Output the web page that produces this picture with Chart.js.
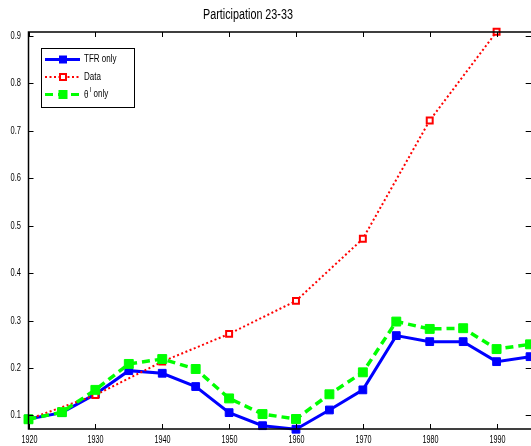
<!DOCTYPE html>
<html>
<head>
<meta charset="utf-8">
<style>
  html, body { margin: 0; padding: 0; background: #fff; overflow: hidden; }
  #wrap { width: 540px; height: 446px; }
</style>
<script src="https://cdn.jsdelivr.net/npm/chart.js@4/dist/chart.umd.min.js"></script>
</head>
<body>
<div id="wrap"><canvas id="c" width="540" height="446"></canvas></div>
<script>
// ---- data ----
const title = "Participation 23-33";
const years5 = [1920,1925,1930,1935,1940,1945,1950,1955,1960,1965,1970,1975,1980,1985,1990,1995];
const tfrOnly = [0.0926,0.106,0.145,0.1945,0.189,0.161,0.106,0.0785,0.071,0.1116,0.154,0.2684,0.2557,0.2557,0.2135,0.224];
const thetaOnly = [0.092,0.107,0.154,0.2087,0.219,0.198,0.136,0.103,0.0926,0.1447,0.191,0.298,0.2825,0.284,0.240,0.250];
const years10 = [1920,1930,1940,1950,1960,1970,1980,1990];
const dataVals = [0.092,0.143,0.2135,0.272,0.3416,0.4725,0.722,0.909];
const xTicks = [1920,1930,1940,1950,1960,1970,1980,1990];
const yTicks = [0.1,0.2,0.3,0.4,0.5,0.6,0.7,0.8,0.9];
const yTickLabels = ["0.1","0.2","0.3","0.4","0.5","0.6","0.7","0.8","0.9"];
const legendLabels = ["TFR only","Data","only"];

const BLUE = '#0000ff', RED = '#ff0000', GREEN = '#00ff00';
const FONT = 'Liberation Sans, Arial, sans-serif';

function txt(ctx, s, x, y, align, sx, size) {
  ctx.save();
  ctx.font = size + 'px ' + FONT;
  ctx.fillStyle = '#000';
  ctx.textBaseline = 'middle';
  ctx.translate(x, y);
  ctx.scale(sx, 1);
  ctx.textAlign = align;
  ctx.fillText(s, 0, 0);
  ctx.restore();
}

const decor = {
  id: 'decor',
  afterDraw(chart) {
    const ctx = chart.ctx;
    const a = chart.chartArea;
    const xs = chart.scales.x, ys = chart.scales.y;
    ctx.save();
    // axes box
    ctx.strokeStyle = '#000';
    ctx.lineWidth = 1.5;
    ctx.setLineDash([]);
    ctx.strokeRect(a.left, a.top, a.right - a.left, a.bottom - a.top);
    // ticks
    ctx.lineWidth = 1;
    const tl = 5;
    xTicks.forEach(v => {
      const px = Math.round(xs.getPixelForValue(v)) + 0.5;
      ctx.beginPath();
      ctx.moveTo(px, a.bottom); ctx.lineTo(px, a.bottom - tl);
      ctx.moveTo(px, a.top); ctx.lineTo(px, a.top + tl);
      ctx.stroke();
      txt(ctx, String(v), px, 440, 'center', 0.72, 10);
    });
    yTicks.forEach((v, i) => {
      const py = Math.round(ys.getPixelForValue(v)) + 0.5;
      ctx.beginPath();
      ctx.moveTo(a.left, py); ctx.lineTo(a.left + tl, py);
      ctx.moveTo(a.right, py); ctx.lineTo(a.right - tl - 2, py);
      ctx.stroke();
      txt(ctx, yTickLabels[i], 21, py, 'right', 0.75, 10);
    });
    // title
    txt(ctx, title, 248, 15.5, 'center', 0.77, 14);

    // legend
    ctx.fillStyle = '#fff';
    ctx.fillRect(41, 48, 94, 60);
    ctx.strokeStyle = '#000';
    ctx.lineWidth = 1;
    ctx.strokeRect(41.5, 48.5, 93, 59);
    const rows = [59.5, 77, 94.5];
    // blue
    ctx.strokeStyle = BLUE; ctx.lineWidth = 3; ctx.setLineDash([]);
    ctx.beginPath(); ctx.moveTo(45, rows[0]); ctx.lineTo(80, rows[0]); ctx.stroke();
    ctx.fillStyle = BLUE; ctx.fillRect(59, rows[0] - 4, 8, 8);
    // red
    ctx.strokeStyle = RED; ctx.lineWidth = 2; ctx.setLineDash([2, 2.5]);
    ctx.beginPath(); ctx.moveTo(45, rows[1]); ctx.lineTo(80, rows[1]); ctx.stroke();
    ctx.setLineDash([]);
    ctx.fillStyle = '#fff'; ctx.fillRect(59.5, rows[1] - 3.5, 7, 7);
    ctx.strokeStyle = RED; ctx.lineWidth = 2; ctx.strokeRect(60, rows[1] - 3, 6, 6);
    // green
    ctx.strokeStyle = GREEN; ctx.lineWidth = 3; ctx.setLineDash([8, 5]);
    ctx.beginPath(); ctx.moveTo(45, rows[2]); ctx.lineTo(80, rows[2]); ctx.stroke();
    ctx.setLineDash([]);
    ctx.fillStyle = GREEN; ctx.fillRect(58.5, rows[2] - 4.5, 9, 9);
    // texts
    txt(ctx, legendLabels[0], 84, rows[0], 'left', 0.8, 10);
    txt(ctx, legendLabels[1], 84, rows[1], 'left', 0.8, 10);
    txt(ctx, '\u03B8', 84, rows[2] + 0.5, 'left', 0.8, 10);
    txt(ctx, 'I', 89.5, rows[2] - 4, 'left', 0.8, 7);
    txt(ctx, legendLabels[2], 93.5, rows[2], 'left', 0.8, 10);
    ctx.restore();
  }
};

new Chart(document.getElementById('c'), {
  type: 'line',
  data: {
    datasets: [
      {
        label: 'TFR only',
        data: years5.map((x, i) => ({x, y: tfrOnly[i]})),
        borderColor: BLUE, backgroundColor: BLUE,
        borderWidth: 3, pointStyle: 'rect', pointRadius: 5.5,
        pointBorderWidth: 1, pointBorderColor: BLUE, pointBackgroundColor: BLUE,
        tension: 0, clip: false, order: 2
      },
      {
        label: 'Data',
        data: years10.map((x, i) => ({x, y: dataVals[i]})),
        borderColor: RED, backgroundColor: '#fff',
        borderWidth: 2, borderDash: [2, 2.5], pointStyle: 'rect', pointRadius: 4.2,
        pointBorderWidth: 2, pointBorderColor: RED, pointBackgroundColor: '#fff',
        tension: 0, clip: false, order: 1
      },
      {
        label: 'theta only',
        data: years5.map((x, i) => ({x, y: thetaOnly[i]})),
        borderColor: GREEN, backgroundColor: GREEN,
        borderWidth: 3.5, borderDash: [8, 5], pointStyle: 'rect', pointRadius: 6.3,
        pointBorderWidth: 1, pointBorderColor: GREEN, pointBackgroundColor: GREEN,
        tension: 0, clip: false, order: 0
      }
    ]
  },
  options: {
    responsive: false,
    animation: false,
    devicePixelRatio: 1,
    layout: { padding: { top: 32, right: 1.5, left: 0, bottom: 0 } },
    plugins: { legend: { display: false }, title: { display: false }, tooltip: { enabled: false } },
    scales: {
      x: {
        type: 'linear', min: 1920, max: 1995.4,
        grid: { display: false }, border: { display: false },
        ticks: { display: false },
        afterFit(s) { s.height = 17; }
      },
      y: {
        type: 'linear', min: 0.0715, max: 0.9085,
        grid: { display: false }, border: { display: false },
        ticks: { display: false },
        afterFit(s) { s.width = 28.5; }
      }
    }
  },
  plugins: [decor]
});
</script>
</body>
</html>
